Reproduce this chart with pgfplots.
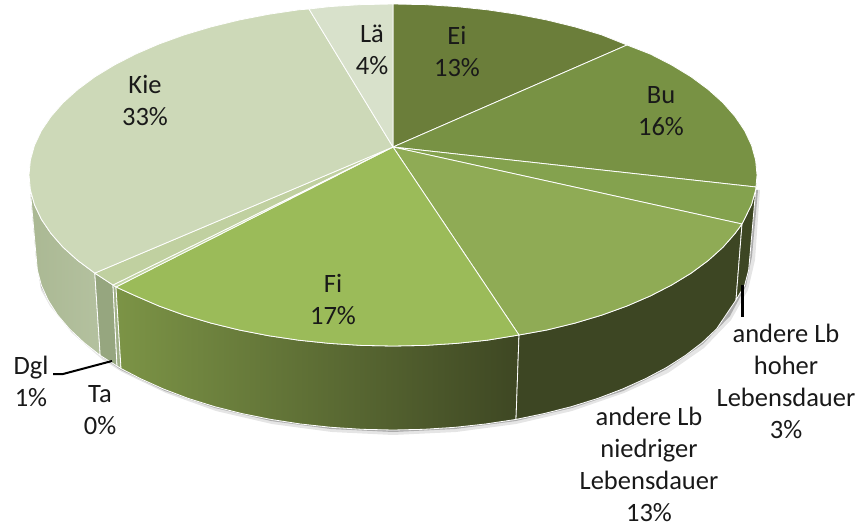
\documentclass[border=0pt]{standalone}
\usepackage{fontspec}
\setmainfont{Carlito}
\usepackage{pgfplots}
\pgfplotsset{compat=1.18}
\definecolor{cEi}{RGB}{107,126,58}
\definecolor{cBu}{RGB}{120,146,68}
\definecolor{cHo}{RGB}{132,162,78}
\definecolor{cNi}{RGB}{143,171,85}
\definecolor{cFi}{RGB}{155,187,89}
\definecolor{cTa}{RGB}{196,213,165}
\definecolor{cDg}{RGB}{192,208,160}
\definecolor{cKi}{RGB}{205,217,184}
\definecolor{cLa}{RGB}{216,225,203}
\tikzset{wedge/.style={draw=white,line width=0.8pt,line join=round},
 lab/.style={font=\fontsize{26.5}{32}\selectfont,align=center,text=black!90,inner sep=0pt}}
\begin{document}
\begin{tikzpicture}[x=1pt,y=1pt]
\useasboundingbox (0,0) rectangle (858,529);
\begin{axis}[at={(0,0)},anchor=south west,scale only axis,width=858pt,height=529pt,
 xmin=0,xmax=858,ymin=0,ymax=529,y dir=reverse,hide axis,clip=false]
% soft shadow under the body
\addplot[fill=black,fill opacity=0.10,draw=none] coordinates {(31,190)(36,260)(41,290)(50,306)(72,333)(103,360)(122,372)(166,393)(216,411)(272,424)(332,432)(393,435)(456,432)(516,424)(572,411)(624,393)(668,373)(704,348)(731,320)(748,290)(755,260)(760,190)(750,190)} -- cycle;
\addplot[fill=black,fill opacity=0.25,draw=none] coordinates {(30,190)(36,257)(41,287)(50,303)(71,331)(102,357)(121,370)(165,391)(215,408)(271,421)(331,429)(393,432)(455,429)(516,421)(572,408)(623,391)(667,369)(703,344)(730,316)(746,286)(752,256)(758,190)(750,190)} -- cycle;
% side walls
\addplot[left color={rgb,255:red,170;green,184;blue,147},right color={rgb,255:red,180;green,193;blue,159},draw=white,line width=0.8pt] coordinates {(29,175)(30.4,189.9)(34.5,204.7)(41.4,219.3)(51,233.5)(63.1,247.3)(77.8,260.5)(94.8,273.1)(100.2,355.4)(83.8,342.5)(69.5,329)(57.5,314.9)(48.2,300.3)(41.4,285.4)(37.4,270.3)(36,255)} -- cycle;
\addplot[fill={rgb,255:red,150;green,166;blue,127},draw=white,line width=0.8pt] coordinates {(94.8,273.1)(113,285)(117,366)(100.2,355.4)} -- cycle;
\addplot[fill={rgb,255:red,160;green,176;blue,135},draw=white,line width=0.8pt] coordinates {(113,285)(116,287)(121,368.5)(117,366)} -- cycle;
\addplot[left color={rgb,255:red,124;green,148;blue,70},right color={rgb,255:red,62;green,71;blue,35},draw=white,line width=0.8pt] coordinates {(116,287)(135.6,295.9)(159,306)(184.2,315.1)(211,323.1)(239.2,330)(268.5,335.7)(298.8,340.2)(329.8,343.4)(361.3,345.4)(393,346)(424.7,345.4)(456.2,343.4)(487.2,340.2)(519,335)(516,419.4)(485.4,424)(455,427.3)(424.1,429.3)(393,430)(361.9,429.3)(331,427.3)(300.6,424)(270.9,419.4)(242.1,413.6)(214.5,406.6)(188.2,398.4)(163.5,389)(140.6,378.7)(121,368.5)} -- cycle;
\addplot[fill={rgb,255:red,61;green,70;blue,35},draw=white,line width=0.8pt] coordinates {(519,335)(546.8,330)(575,323.1)(601.8,315.1)(627,306)(650.4,295.9)(671.8,284.9)(691.2,273.1)(708.2,260.5)(722.9,247.3)(735,233.5)(742,224)(736,300)(716.5,329)(702.2,342.5)(685.4,355.4)(666.5,367.5)(645.4,378.7)(622.5,389)(597.8,398.4)(571.5,406.6)(543.9,413.6)(516,419.4)} -- cycle;
\addplot[fill={rgb,255:red,61;green,70;blue,35},draw=white,line width=0.8pt] coordinates {(742,224)(751.5,204.7)(755.6,189.9)(757,175)(750,255)(748.6,270.3)(744.6,285.4)(736,300)} -- cycle;
% top face
\addplot[wedge,fill=cEi] coordinates {(393,147)(393,4)(424.7,4.6)(456.2,6.6)(487.2,9.8)(517.5,14.3)(546.8,20)(575,26.9)(601.8,34.9)(627,45)} -- cycle;
\addplot[wedge,fill=cBu] coordinates {(393,147)(627,45)(650.4,54.1)(671.8,65.1)(691.2,76.9)(708.2,89.5)(722.9,102.7)(735,116.5)(744.6,130.7)(751.5,145.3)(755.6,160.1)(757,175)(756,187)} -- cycle;
\addplot[wedge,fill=cHo] coordinates {(393,147)(756,187)(755.6,189.9)(751.5,204.7)(742,224)} -- cycle;
\addplot[wedge,fill=cNi] coordinates {(393,147)(742,224)(735,233.5)(722.9,247.3)(708.2,260.5)(691.2,273.1)(671.8,284.9)(650.4,295.9)(627,306)(601.8,315.1)(575,323.1)(546.8,330)(519,335)} -- cycle;
\addplot[wedge,fill=cFi] coordinates {(393,147)(519,335)(487.2,340.2)(456.2,343.4)(424.7,345.4)(393,346)(361.3,345.4)(329.8,343.4)(298.8,340.2)(268.5,335.7)(239.2,330)(211,323.1)(184.2,315.1)(159,306)(135.6,295.9)(116,287)} -- cycle;
\addplot[wedge,fill=cTa] coordinates {(393,147)(116,287)(113,285)} -- cycle;
\addplot[wedge,fill=cDg] coordinates {(393,147)(113,285)(94.8,273.1)} -- cycle;
\addplot[wedge,fill=cKi] coordinates {(393,147)(94.8,273.1)(77.8,260.5)(63.1,247.3)(51,233.5)(41.4,219.3)(34.5,204.7)(30.4,189.9)(29,175)(30.4,160.1)(34.5,145.3)(41.4,130.7)(51,116.5)(63.1,102.7)(77.8,89.5)(94.8,76.9)(114.2,65.1)(135.6,54.1)(159,44)(184.2,34.9)(211,26.9)(239.2,20)(268.5,14.3)(298.8,9.8)(309,9)} -- cycle;
\addplot[wedge,fill=cLa] coordinates {(393,147)(309,9)(329.8,6.6)(361.3,4.6)(393,4)} -- cycle;
% leader lines
\addplot[black,line width=2pt] coordinates {(53,374)(63,374)(112,361)};
\addplot[black,line width=2.6pt] coordinates {(742.5,285)(742.5,317)};
% labels
\node[lab] at (axis cs:457,51) {Ei\\13\%};
\node[lab] at (axis cs:661,111) {Bu\\16\%};
\node[lab] at (axis cs:372,50) {Lä\\4\%};
\node[lab] at (axis cs:145,100) {Kie\\33\%};
\node[lab] at (axis cs:333,299) {Fi\\17\%};
\node[lab] at (axis cs:31,381) {Dgl\\1\%};
\node[lab] at (axis cs:100,410) {Ta\\0\%};
\node[lab] at (axis cs:786,381) {andere Lb\\hoher\\Lebensdauer\\3\%};
\node[lab] at (axis cs:649,464) {andere Lb\\niedriger\\Lebensdauer\\13\%};
\end{axis}
\end{tikzpicture}
\end{document}
